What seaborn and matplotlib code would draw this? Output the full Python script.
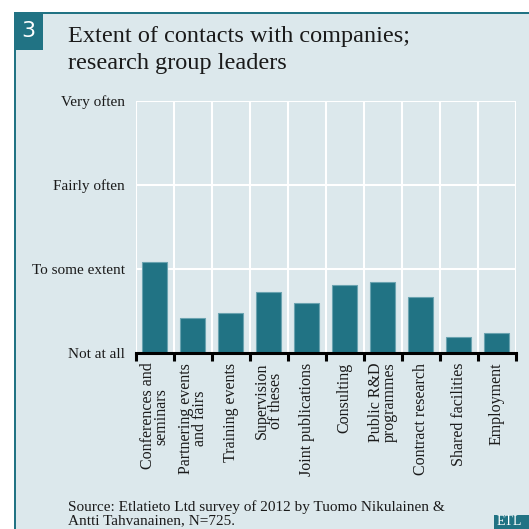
import matplotlib
matplotlib.use("Agg")
import matplotlib.pyplot as plt
import seaborn as sns
import pandas as pd
from matplotlib.patches import Rectangle
from matplotlib.ticker import FixedLocator

# data (0 = Not at all ... 3 = Very often)
categories = [
    "Conferences and\nseminars",
    "Partnering events\nand fairs",
    "Training events",
    "Supervision\nof theses",
    "Joint publications",
    "Consulting",
    "Public R&D\nprogrammes",
    "Contract research",
    "Shared facilities",
    "Employment",
]
values = [1.08, 0.42, 0.48, 0.73, 0.59, 0.81, 0.84, 0.67, 0.19, 0.24]
level_labels = ["Not at all", "To some extent", "Fairly often", "Very often"]

TEAL = "#217384"
PANEL = "#dce8ec"
SERIF = ["Liberation Serif", "DejaVu Serif"]

sns.set_theme(style="white")
plt.rcParams["font.family"] = SERIF

W = H = 529
fig = plt.figure(figsize=(W / 100, H / 100), dpi=100)
fig.patch.set_facecolor("white")

# panel background and borders
fig.add_artist(Rectangle((14 / W, 0), 1, 1 - 12 / H, transform=fig.transFigure,
                         facecolor=PANEL, edgecolor="none", zorder=0))
fig.add_artist(Rectangle((14 / W, 1 - 14 / H), 1, 2 / H, transform=fig.transFigure,
                         facecolor=TEAL, edgecolor="none", zorder=1))
fig.add_artist(Rectangle((14 / W, 0), 2 / W, 1 - 12 / H, transform=fig.transFigure,
                         facecolor=TEAL, edgecolor="none", zorder=1))
# number box
fig.add_artist(Rectangle((14 / W, 1 - 50 / H), 29 / W, 38 / H, transform=fig.transFigure,
                         facecolor=TEAL, edgecolor="none", zorder=2))
fig.text(28.5 / W, 1 - 31 / H, "3", color="white", fontsize=16, family="DejaVu Sans",
         ha="center", va="center", zorder=3)
# ETL logo
fig.add_artist(Rectangle((494 / W, 0), 40 / W, 14 / H, transform=fig.transFigure,
                         facecolor=TEAL, edgecolor="none", zorder=2))
fig.text(497 / W, 1 / H, "ETL", color="white", fontsize=10, ha="left", va="bottom",
         zorder=3)

fig.text(68 / W, 1 - 26 / H, "Extent of contacts with companies;\nresearch group leaders",
         fontsize=17.5, ha="left", va="top", linespacing=1.4, color="#1a1a1a")
fig.text(68 / W, 1 - 500 / H, "Source: Etlatieto Ltd survey of 2012 by Tuomo Nikulainen &\n"
         "Antti Tahvanainen, N=725.", fontsize=11, ha="left", va="top",
         linespacing=1.0, color="#1a1a1a")

ax = fig.add_axes([136 / W, 1 - 353 / H, (515.5 - 136) / W, (353 - 101) / H])
ax.set_facecolor("none")

df = pd.DataFrame({"category": categories, "value": values})
sns.barplot(data=df, x="category", y="value", color=TEAL, saturation=1,
            edgecolor="#6aa3b0", linewidth=0.8, width=0.66, ax=ax, zorder=3)

ax.set_xlim(-0.5, len(categories) - 0.5)
ax.set_ylim(0, 3)
ax.set_xlabel("")
ax.set_ylabel("")

ax.set_yticks(range(4))
ax.set_yticklabels(level_labels, fontsize=11, color="#1a1a1a")
ax.tick_params(axis="y", length=0, pad=8)

ax.set_xticks(range(len(categories)))
ax.set_xticklabels(categories, rotation=90, fontsize=11.5, color="#1a1a1a",
                   ha="center", va="top", linespacing=0.8, multialignment="center")
ax.xaxis.set_minor_locator(FixedLocator([i - 0.5 for i in range(len(categories) + 1)]))
ax.tick_params(axis="x", which="major", bottom=True, length=0, pad=7)
ax.tick_params(axis="x", which="minor", bottom=True, length=6, width=2.2,
               color="black", direction="out")

ax.grid(True, axis="y", which="major", color="white", linewidth=1.5, zorder=1)
ax.grid(True, axis="x", which="minor", color="white", linewidth=1.5, zorder=1)
ax.grid(False, axis="x", which="major")
ax.set_axisbelow(True)

for side in ["top", "right", "left"]:
    ax.spines[side].set_visible(False)
ax.spines["bottom"].set_color("black")
ax.spines["bottom"].set_linewidth(2.2)
ax.spines["bottom"].set_zorder(4)

fig.savefig("out.png", dpi=100)
